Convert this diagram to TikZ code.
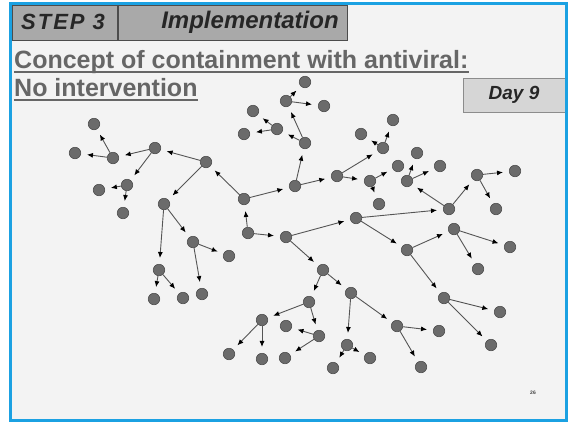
\documentclass[tikz,border=0pt]{standalone}
\usepackage{fontspec}
\setmainfont{Liberation Sans}
\usetikzlibrary{arrows.meta}
\definecolor{frameblue}{HTML}{1BA1E2}
\definecolor{slide}{HTML}{F3F3F3}
\definecolor{boxgray}{HTML}{A9A9A9}
\definecolor{daygray}{HTML}{D6D6D6}
\definecolor{headgray}{HTML}{666666}
\definecolor{dotgray}{HTML}{6B6B6B}
\definecolor{linegray}{HTML}{555555}

\begin{document}
\begin{tikzpicture}[x=1pt,y=-1pt,
    dot/.style={circle, fill=dotgray, draw=dotgray!70!black, line width=0.6pt, minimum size=11.5pt, inner sep=0pt},
    edge/.style={draw=linegray, line width=0.9pt, -{Latex[length=6pt,width=5pt,color=black]}, shorten >=6pt},
    hdrbox/.style={fill=boxgray, draw=black!70, line width=0.8pt},
    hdrtext/.style={inner sep=0pt, text=black!85, font=\fontsize{24}{27}\selectfont\bfseries\itshape},
    heading/.style={anchor=base west, inner sep=0pt, text=headgray, font=\fontsize{25}{28}\selectfont\bfseries},
    underline/.style={draw=headgray, line width=1.6pt}]
            \useasboundingbox (0,0) rectangle (572,424);
            % Slide background
            \fill[white] (0,0) rectangle (572,424);
            \fill[slide] (10,3) rectangle (566,420);

            % Header boxes
            \draw[hdrbox] (12,5) rectangle (117,40);
            \draw[hdrbox] (118,5) rectangle (347,40);
            \node[hdrtext, font=\fontsize{22}{26}\selectfont\bfseries\itshape] (step) at (63,22) {S\kern2pt T\kern2pt E\kern2pt P\kern8pt 3};
            \node[hdrtext] (impl) at (250,22) {Implementation};

            % Title lines
            \node[heading] (concept) at (14,68) {Concept of containment with antiviral:};
            \node[heading] (nointerv) at (14,96) {No intervention};
            \draw[underline] ([yshift=-4pt]concept.base west) -- ([yshift=-4pt]concept.base east);
            \draw[underline] ([yshift=-4pt]nointerv.base west) -- ([yshift=-4pt]nointerv.base east);

            % Day box
            \draw[fill=daygray, draw=black!45, line width=0.8pt] (463,78) rectangle (566,112);
            \node[hdrtext, font=\fontsize{19}{22}\selectfont\bfseries\itshape] (day) at (514,95) {Day 9};

            % Cases
            \foreach \nm/\x/\y in {r/248/233, a/244/199, b/206/162, c/155/148, d/113/158,
                e/94/124, f/75/153, g/127/185, h/99/190, i/123/213, j/164/204, k/193/242,
                l/229/256, m/159/270, n/154/299, o/183/298, p/202/294,
                q/295/186, s/305/143, t/286/101, u/305/82, v/324/106, w/277/129,
                x/253/111, y/244/134, z/337/176,
                z1/370/181, z2/379/204, z3/398/166, z4/383/148, z5/361/134, z6/393/120,
                c1/286/237, c2/356/218, c3/449/209, c4/407/181, c5/417/153, c6/440/166,
                c7/477/175, c8/515/171, c9/496/209, c10/407/250, c11/454/229, c12/510/247,
                c13/478/269, c14/444/298, c15/500/312, c16/491/345,
                d1/323/270, d2/309/302, d3/262/320, d4/229/354, d5/262/359, d6/319/336,
                d7/286/326, d8/285/358, d9/351/293, d10/397/326, d11/439/331, d12/421/367,
                d13/347/345, d14/370/358, d15/333/368}
                \node[dot] (\nm) at (\x,\y) {};

            % Transmissions
            \foreach \from/\to in {r/a, r/c1, a/b, a/q, b/c, b/j, c/d, c/g, d/e, d/f,
                g/h, g/i, j/k, j/m, k/l, k/p, m/n, m/o,
                q/s, q/z, s/t, s/w, t/u, t/v, w/x, w/y,
                z/z1, z/z4, z1/z2, z1/z3, z4/z5, z4/z6,
                c1/c2, c1/d1, c2/c3, c2/c10, c3/c4, c3/c7, c4/c5, c4/c6, c7/c8, c7/c9,
                c10/c11, c10/c14, c11/c12, c11/c13, c14/c15, c14/c16,
                d1/d2, d1/d9, d2/d3, d2/d6, d3/d4, d3/d5, d6/d7, d6/d8,
                d9/d10, d9/d13, d10/d11, d10/d12, d13/d14, d13/d15}
                \draw[edge] (\from) -- (\to);

            % Page number
            \node[inner sep=0pt, text=black!75, font=\fontsize{5}{6}\selectfont\bfseries] (page) at (533,393) {26};

            % Frame
            \draw[frameblue, line width=3pt] (10,3) rectangle (566,420);
        \end{tikzpicture}
\end{document}
